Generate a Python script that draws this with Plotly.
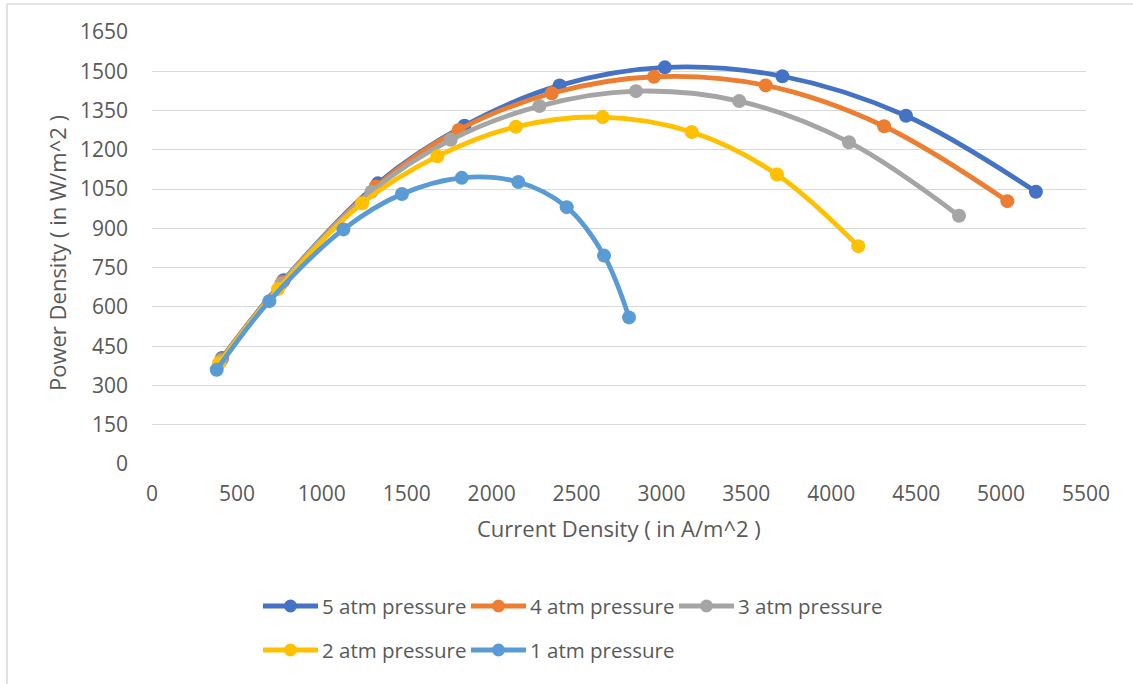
import plotly.graph_objects as go

# Current density (A/m^2) and power density (W/m^2) for each operating pressure
current_5atm = [412, 775, 1330, 1840, 2400, 3020, 3712, 4440, 5205]
power_5atm = [405, 702, 1072, 1292, 1446, 1515, 1481, 1330, 1040]

current_4atm = [410, 768, 1318, 1806, 2354, 2956, 3614, 4311, 5037]
power_4atm = [400, 695, 1060, 1276, 1416, 1479, 1446, 1290, 1004]

current_3atm = [405, 760, 1292, 1759, 2281, 2850, 3458, 4104, 4752]
power_3atm = [394, 688, 1040, 1238, 1367, 1424, 1386, 1229, 948]

current_2atm = [395, 742, 1238, 1680, 2143, 2654, 3178, 3680, 4159]
power_2atm = [385, 668, 996, 1175, 1288, 1325, 1268, 1106, 832]

current_1atm = [381, 691, 1127, 1472, 1824, 2157, 2442, 2662, 2809]
power_1atm = [360, 622, 896, 1031, 1093, 1077, 981, 796, 560]

series_names = ["5 atm pressure", "4 atm pressure", "3 atm pressure",
                "2 atm pressure", "1 atm pressure"]
series_colors = ["#4472C4", "#ED7D31", "#A5A5A5", "#FFC000", "#5B9BD5"]
series_x = [current_5atm, current_4atm, current_3atm, current_2atm, current_1atm]
series_y = [power_5atm, power_4atm, power_3atm, power_2atm, power_1atm]

x_ticks = [0, 500, 1000, 1500, 2000, 2500, 3000, 3500, 4000, 4500, 5000, 5500]
y_ticks = [0, 150, 300, 450, 600, 750, 900, 1050, 1200, 1350, 1500, 1650]

W, H = 1133, 684
L, R, T, B = 152, 47, 32, 220
PW, PH = W - L - R, H - T - B

FONT = "Open Sans"
TEXT = "#595959"
GRID = "#D9D9D9"


def px(xp):
    return (xp - L) / PW


def py(yp):
    return (H - B - yp) / PH


fig = go.Figure()
for name, color, xs, ys in zip(series_names, series_colors, series_x, series_y):
    fig.add_trace(go.Scatter(
        x=xs, y=ys, name=name, mode="lines+markers",
        line=dict(color=color, width=4.8, shape="spline", smoothing=1),
        marker=dict(color=color, size=14, line=dict(width=0)),
        showlegend=False,
    ))

shapes = []
annotations = []

# chart frame edges
shapes.append(dict(type="line", xref="paper", yref="paper",
                   x0=px(7), x1=px(W), y0=py(4), y1=py(4),
                   line=dict(color=GRID, width=1.5)))
shapes.append(dict(type="line", xref="paper", yref="paper",
                   x0=px(7), x1=px(7), y0=py(4), y1=py(H),
                   line=dict(color=GRID, width=1.5)))

# legend: three entries per row
leg_x0, leg_stride, leg_y0, leg_row = 263, 208, 606, 44
for i, (name, color) in enumerate(zip(series_names, series_colors)):
    row, col = divmod(i, 3)
    lx = leg_x0 + col * leg_stride
    ly = leg_y0 + row * leg_row
    shapes.append(dict(type="line", xref="paper", yref="paper",
                       x0=px(lx), x1=px(lx + 55), y0=py(ly), y1=py(ly),
                       line=dict(color=color, width=4.8)))
    shapes.append(dict(type="circle", xref="paper", yref="paper",
                       xsizemode="pixel", ysizemode="pixel",
                       xanchor=px(lx + 27.5), yanchor=py(ly),
                       x0=-6.5, x1=6.5, y0=-6.5, y1=6.5,
                       fillcolor=color, line=dict(width=0)))
    annotations.append(dict(xref="paper", yref="paper", x=px(lx + 57), y=py(ly),
                            xanchor="left", yanchor="middle", showarrow=False,
                            text=name, font=dict(family=FONT, size=20.5, color=TEXT)))

# axis titles
annotations.append(dict(xref="paper", yref="paper", x=0.5, y=py(528),
                        xanchor="center", yanchor="middle", showarrow=False,
                        text="Current Density ( in A/m^2 )",
                        font=dict(family=FONT, size=22, color=TEXT)))
annotations.append(dict(xref="paper", yref="paper", x=px(57), y=py(253),
                        xanchor="center", yanchor="middle", showarrow=False,
                        textangle=-90, text="Power Density ( in W/m^2 )",
                        font=dict(family=FONT, size=22, color=TEXT)))

fig.update_layout(
    width=W, height=H,
    margin=dict(l=L, r=R, t=T, b=B),
    paper_bgcolor="white", plot_bgcolor="white",
    font=dict(family=FONT, size=21, color=TEXT),
    shapes=shapes, annotations=annotations,
    xaxis=dict(range=[0, 5500], tickvals=x_ticks, ticktext=[str(v) for v in x_ticks],
               showgrid=False, zeroline=False, showline=False, ticks="",
               ticklabelstandoff=15, tickfont=dict(size=21, color=TEXT)),
    yaxis=dict(range=[0, 1650], tickvals=y_ticks, ticktext=[str(v) for v in y_ticks],
               showgrid=True, gridcolor=GRID, gridwidth=1.3, zeroline=False,
               showline=False, ticks="", ticklabelstandoff=23,
               tickfont=dict(size=21, color=TEXT)),
)

fig.write_html("out.html")
